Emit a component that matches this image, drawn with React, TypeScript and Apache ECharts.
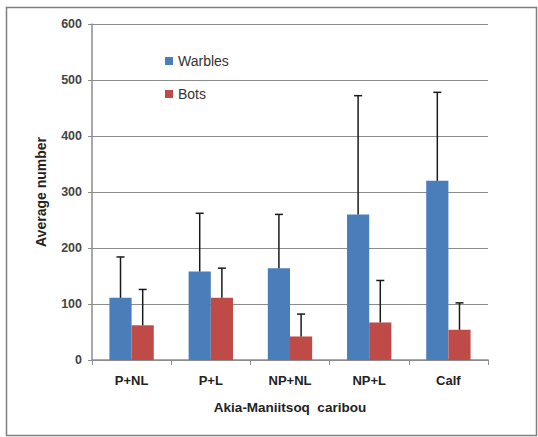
import React, { useEffect, useRef } from "react";
import * as echarts from "echarts";

const categories = ["P+NL", "P+L", "NP+NL", "NP+L", "Calf"];
const warbles = [111, 158, 164, 260, 320];
const warblesErrTop = [184, 262, 260, 472, 478];
const bots = [62, 111, 42, 67, 54];
const botsErrTop = [126, 164, 82, 142, 102];
const yTicks = [0, 100, 200, 300, 400, 500, 600];

const CAT_GAP = 0.44;
const FONT = "'Liberation Sans', Arial, sans-serif";

function errorSeries(name: string, values: number[], tops: number[], side: number) {
  return {
    type: "custom",
    name: name + " error",
    z: 5,
    data: values.map((v, i) => [i, v, tops[i]]),
    renderItem: (params: any, api: any) => {
      const idx = api.value(0);
      const base = api.coord([idx, api.value(1)]);
      const top = api.coord([idx, api.value(2)]);
      const band = api.size([1, 0])[0];
      const bw = (band * (1 - CAT_GAP)) / 2;
      const x = base[0] + (side * bw) / 2;
      const cap = 4;
      const style = { stroke: "#1a1a1a", lineWidth: 1.5 };
      return {
        type: "group",
        children: [
          { type: "line", shape: { x1: x, y1: base[1], x2: x, y2: top[1] }, style },
          { type: "line", shape: { x1: x - cap, y1: top[1], x2: x + cap, y2: top[1] }, style },
        ],
      };
    },
  };
}

export default function App() {
  const ref = useRef<HTMLDivElement>(null);
  useEffect(() => {
    document.body.style.margin = "0";
    const chart = echarts.init(ref.current!, null, { renderer: "svg" });
    chart.setOption({
      animation: false,
      backgroundColor: "#ffffff",
      textStyle: { fontFamily: FONT },
      graphic: [
        {
          type: "rect",
          shape: { x: 6.5, y: 7.5, width: 530, height: 428 },
          style: { fill: "none", stroke: "#7f7f7f", lineWidth: 1.5 },
          silent: true,
        },
      ],
      legend: {
        orient: "vertical",
        left: 160,
        top: 49,
        itemWidth: 8,
        itemHeight: 8,
        itemGap: 19,
        icon: "rect",
        data: ["Warbles", "Bots"],
        textStyle: { fontSize: 14, color: "#333", fontFamily: FONT },
      },
      grid: { left: 92, right: 50, top: 24, bottom: 77, containLabel: false },
      xAxis: {
        type: "category",
        data: categories,
        name: "Akia-Maniitsoq  caribou",
        nameLocation: "middle",
        nameGap: 40,
        nameTextStyle: { fontSize: 13.5, fontWeight: "bold", color: "#222", fontFamily: FONT },
        axisLine: { lineStyle: { color: "#8c8c8c", width: 1.5 } },
        axisTick: { show: true, length: 5, lineStyle: { color: "#8c8c8c" } },
        axisLabel: { fontSize: 13, fontWeight: "bold", color: "#222", margin: 14, fontFamily: FONT },
      },
      yAxis: {
        type: "value",
        min: 0,
        max: 600,
        interval: 100,
        name: "Average number",
        nameLocation: "middle",
        nameGap: 44,
        nameTextStyle: { fontSize: 14, fontWeight: "bold", color: "#222", fontFamily: FONT },
        axisLine: { show: true, lineStyle: { color: "#8c8c8c", width: 1.5 } },
        axisTick: { show: true, length: 4, lineStyle: { color: "#8c8c8c" } },
        axisLabel: {
          fontSize: 12.5,
          fontWeight: "bold",
          color: "#444",
          margin: 10,
          fontFamily: FONT,
          formatter: (v: number) => (yTicks.includes(v) ? String(v) : ""),
        },
        splitLine: { lineStyle: { color: "#8c8c8c", width: 1.2 } },
      },
      series: [
        {
          type: "bar",
          name: "Warbles",
          data: warbles,
          itemStyle: { color: "#4a7ebb" },
          barGap: "0%",
          barCategoryGap: CAT_GAP * 100 + "%",
        },
        {
          type: "bar",
          name: "Bots",
          data: bots,
          itemStyle: { color: "#be4b48" },
          barGap: "0%",
          barCategoryGap: CAT_GAP * 100 + "%",
        },
        errorSeries("Warbles", warbles, warblesErrTop, -1),
        errorSeries("Bots", bots, botsErrTop, 1),
      ],
    });
    return () => chart.dispose();
  }, []);
  return <div ref={ref} style={{ width: 538, height: 437 }} />;
}
